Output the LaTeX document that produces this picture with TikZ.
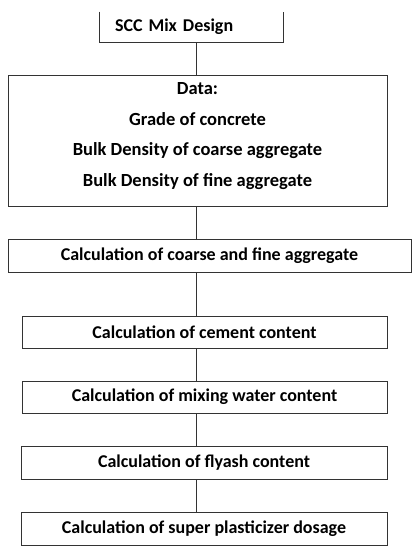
\documentclass[tikz,border=0pt]{standalone}
\usepackage{fontspec}
\setmainfont{Carlito}
\usepackage{tikz}
\usetikzlibrary{positioning}

\begin{document}
\begin{tikzpicture}[
    x=1pt, y=-1pt,
    stepbox/.style={rectangle, draw=black!80, line width=0.9pt, minimum height=32pt,
                    inner sep=0pt, font=\fontsize{18}{21}\selectfont\bfseries, align=center},
    link/.style={draw=black!80, line width=0.9pt},
]
\useasboundingbox (0,0) rectangle (414,550);
\coordinate (spine) at (196,0);

% top box, open at the top
\node[stepbox, draw=none, minimum width=183pt, minimum height=30pt, text width=153pt,
      align=left] (scc) at (191.5,27) {SCC Mix Design};
\draw[link] (scc.north west) -- (scc.south west) -- (scc.south east) -- (scc.north east);

\node[stepbox, minimum width=379pt, minimum height=131pt,
      font=\fontsize{18.5}{30.5}\selectfont\bfseries] (data) at (197.5,140.5)
      {Data:\\Grade of concrete\\Bulk Density of coarse aggregate\\Bulk Density of fine aggregate\\[-18.5pt]};
\node[stepbox, minimum width=403pt, minimum height=33pt] (coarse) at (209.5,255.5)
      {Calculation of coarse and fine aggregate};
\node[stepbox, minimum width=365pt] (cement) at (204.5,332)
      {Calculation of cement content};
\node[stepbox, minimum width=365pt] (water) at (204.5,397)
      {Calculation of mixing water content};
\node[stepbox, minimum width=366pt, minimum height=33pt] (flyash) at (204,462.5)
      {Calculation of flyash content};
\node[stepbox, minimum width=366pt, minimum height=33pt] (sp) at (204,528.5)
      {Calculation of super plasticizer dosage};

\foreach \a/\b in {scc/data, data/coarse, coarse/cement, cement/water, water/flyash, flyash/sp}
    \draw[link] (\a.south -| spine) -- (\b.north -| spine);
\end{tikzpicture}
\end{document}
